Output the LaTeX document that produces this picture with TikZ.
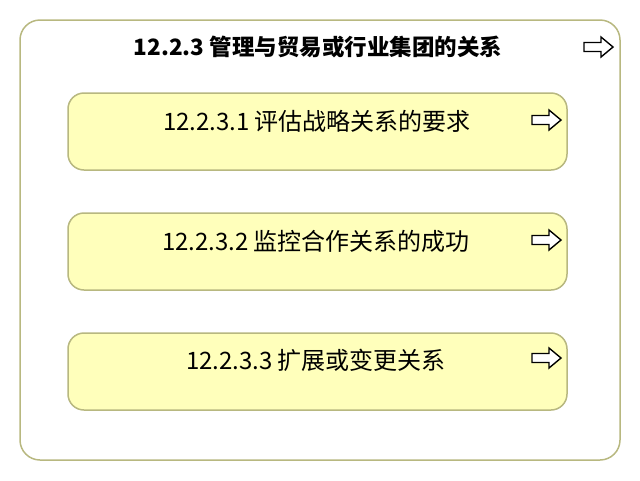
\documentclass[tikz,border=0pt]{standalone}
\usepackage{fontspec}
\setmainfont{Noto Sans CJK SC}
\begin{document}
\begin{tikzpicture}[x=1pt,y=-1pt,
  outerbox/.style={draw=olivebd, line width=1.5pt, fill=white, rounded corners=20pt},
  taskbox/.style={draw=olivebd, line width=1.5pt, fill=taskfill, rounded corners=16pt},
  lbl/.style={font=\fontsize{24}{28}\selectfont, inner sep=0pt, anchor=center},
  arrowicon/.style={draw=black, line width=1.4pt, fill=white, line join=miter}
]
\definecolor{olivebd}{HTML}{B8B880}
\definecolor{taskfill}{HTML}{FFFFBB}
\useasboundingbox (0,0) rectangle (640,480);
\newcommand{\arrowat}[2]{%
  \draw[arrowicon] (#1,#2-4.5) -- (#1+17,#2-4.5) -- (#1+17,#2-10) -- (#1+29,#2) -- (#1+17,#2+10) -- (#1+17,#2+4.5) -- (#1,#2+4.5) -- cycle;}
\draw[outerbox] (20,20) rectangle (620,460);
\node[lbl, font=\fontsize{22.5}{26}\selectfont\bfseries] (title) at (318,47) {12.2.3 管理与贸易或行业集团的关系};
\arrowat{584}{47}
\draw[taskbox] (68,93) rectangle (567,170);
\node[lbl] (t1) at (317,121) {12.2.3.1 评估战略关系的要求};
\arrowat{532}{120}
\draw[taskbox] (68,213) rectangle (567,290);
\node[lbl] (t2) at (316,241) {12.2.3.2 监控合作关系的成功};
\arrowat{532}{240}
\draw[taskbox] (68,333) rectangle (567,410);
\node[lbl] (t3) at (316,360) {12.2.3.3 扩展或变更关系};
\arrowat{532}{358}
\end{tikzpicture}
\end{document}
